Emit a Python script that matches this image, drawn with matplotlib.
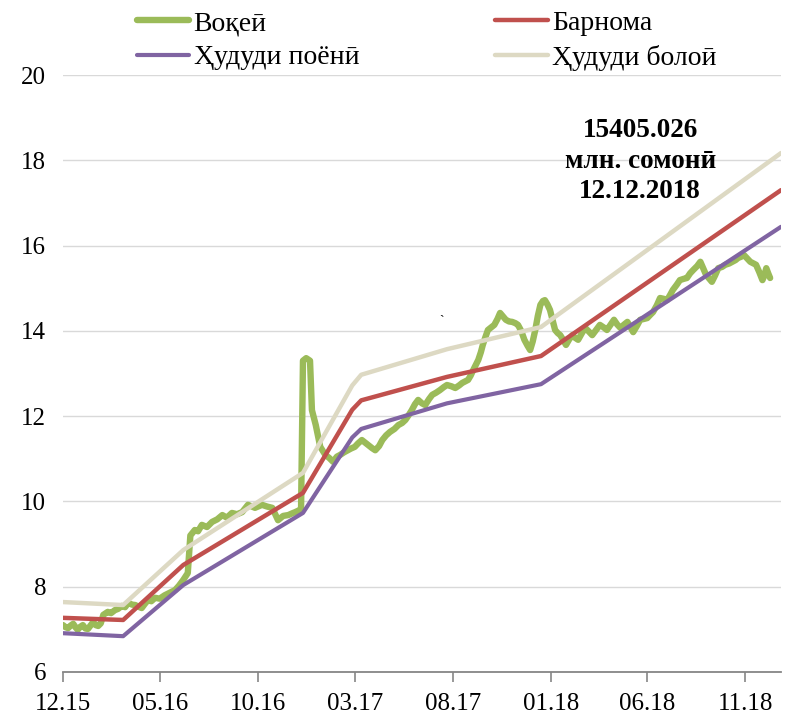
import matplotlib
matplotlib.use("Agg")
import matplotlib.pyplot as plt
import numpy as np
import pandas as pd

plt.rcParams['font.family'] = ['Liberation Serif', 'DejaVu Serif']

start = pd.Timestamp("2015-12-01")

# Actual (Воқеӣ): days since 2015-12-01, value
green_day = [0, 4, 8, 12, 16, 20, 23, 27, 31, 35, 39, 43, 47, 51, 55, 59, 63, 70, 75, 81, 86, 92, 97,
             102, 108, 113, 118, 123, 128, 133, 138, 144, 151, 159, 167, 175, 181, 188, 195,
             199, 206, 211, 217, 225, 233, 241, 249, 256, 264, 272, 280, 289, 300, 311, 319, 327, 336,
             344, 352, 358, 363, 370, 372, 375, 380, 386,
             389, 395, 402, 410, 416, 422, 428, 433, 439, 445, 450, 456, 461, 467, 472, 477, 483, 488,
             494, 499, 505, 511, 518, 524, 530, 535, 540, 545, 550, 555, 561, 566,
             572, 577, 583, 589, 595, 600, 607, 613, 619, 624, 629, 633, 637, 641, 645, 649, 653, 656,
             660, 664, 669, 674, 679, 683, 688, 692, 697, 702, 707, 711, 716, 721, 726, 730, 734, 738,
             742, 746, 750, 753, 757, 761, 765, 769, 773, 777, 782, 786, 791, 796, 800, 805, 811, 816,
             822, 827, 833, 839, 845, 850, 856, 861, 866, 871, 877, 882, 887, 891, 897, 902, 908, 913,
             918, 922, 928, 933, 939, 944, 949, 953, 959, 964, 970, 975, 980, 985, 991, 996, 1001, 1005,
             1010, 1014, 1019, 1024, 1030, 1035, 1041, 1046, 1051, 1055, 1060, 1064, 1069, 1074,
             1079, 1083, 1088, 1093, 1096, 1099, 1102, 1105]
green_val = [7.10, 7.05, 7.03, 7.09, 7.13, 7.04, 6.99, 7.06, 7.10, 7.02, 7.01, 7.09, 7.17, 7.10, 7.08,
             7.14, 7.34, 7.41, 7.38, 7.45, 7.48, 7.55, 7.52, 7.62, 7.58, 7.57, 7.53, 7.50, 7.60,
             7.69, 7.66, 7.74, 7.72, 7.80, 7.86, 7.92, 8.02, 8.16, 8.32,
             9.20, 9.33, 9.30, 9.45, 9.40, 9.52, 9.58, 9.68, 9.62, 9.73, 9.70, 9.75, 9.92, 9.85, 9.92,
             9.88, 9.85, 9.56, 9.66, 9.68, 9.72, 9.75, 9.80, 9.80, 13.30, 13.36, 13.30,
             12.14, 11.79, 11.28, 11.09, 11.02, 10.93, 11.05, 11.09, 11.15, 11.20, 11.24, 11.28, 11.36,
             11.44, 11.38, 11.32, 11.25, 11.20, 11.30, 11.44, 11.55, 11.63, 11.70, 11.79, 11.84, 11.91,
             12.02, 12.14, 12.28, 12.38, 12.30, 12.26,
             12.40, 12.50, 12.55, 12.61, 12.68, 12.73, 12.70, 12.66, 12.72, 12.78, 12.82, 12.85, 12.95,
             13.08, 13.20, 13.32, 13.50, 13.67, 13.85, 14.02, 14.08, 14.14, 14.28, 14.42, 14.33, 14.26,
             14.22, 14.21, 14.18, 14.14, 14.00, 13.79, 13.65, 13.55, 13.75, 14.02, 14.35, 14.61, 14.70,
             14.72, 14.62, 14.49, 14.25, 14.02, 13.95, 13.90, 13.78, 13.67, 13.80, 13.90, 13.84, 13.79,
             13.95, 14.07, 13.98, 13.90, 14.02, 14.14, 14.08, 14.02, 14.15, 14.26, 14.15, 14.07, 14.15,
             14.21, 14.08, 13.97, 14.12, 14.26, 14.28, 14.30, 14.38, 14.44, 14.60, 14.77, 14.75, 14.72,
             14.85, 14.96, 15.08, 15.19, 15.22, 15.24, 15.35, 15.43, 15.52, 15.62, 15.45, 15.31, 15.22,
             15.15, 15.30, 15.47, 15.50, 15.55, 15.58, 15.62, 15.66, 15.71, 15.74, 15.78, 15.70, 15.62,
             15.58, 15.55, 15.38, 15.19, 15.30, 15.47, 15.35, 15.24]

# Program and corridor
trend_day = [0, 94, 188, 375, 452, 466, 600, 747, 1122]
red_val = [7.27, 7.22, 8.51, 10.20, 12.15, 12.37, 12.92, 13.41, 17.30]
purple_val = [6.91, 6.84, 8.04, 9.73, 11.50, 11.70, 12.30, 12.75, 16.44]
beige_val = [7.64, 7.57, 8.86, 10.67, 12.72, 12.97, 13.57, 14.09, 18.17]

tick_dates = ["2015-12-01", "2016-05-01", "2016-10-01", "2017-03-01", "2017-08-01",
              "2018-01-01", "2018-06-01", "2018-11-01"]
tick_labels = ["12.15", "05.16", "10.16", "03.17", "08.17", "01.18", "06.18", "11.18"]
y_ticks = [6, 8, 10, 12, 14, 16, 18, 20]

labels = ["Воқеӣ", "Барнома", "Ҳудуди поёнӣ", "Ҳудуди болоӣ"]
annot = "15405.026\nмлн. сомонӣ\n12.12.2018"
annot_day = 902
annot_y = 17.98

gx = start + pd.to_timedelta(green_day, unit="D")
tx = start + pd.to_timedelta(trend_day, unit="D")

fig = plt.figure(figsize=(7.94, 7.23), dpi=100)
ax = fig.add_axes([63/794, 1-672/723, (781-63)/794, (672-75)/723])

c_green = "#9BBB59"
c_red = "#C0504D"
c_purple = "#8064A2"
c_beige = "#DDD9C3"

l_beige, = ax.plot(tx, beige_val, color=c_beige, lw=3.2, solid_capstyle="round", zorder=3)
l_red, = ax.plot(tx, red_val, color=c_red, lw=3.2, solid_capstyle="round", zorder=4)
l_purple, = ax.plot(tx, purple_val, color=c_purple, lw=3.0, solid_capstyle="round", zorder=4)
l_green, = ax.plot(gx, green_val, color=c_green, lw=4.6, solid_joinstyle="round",
                   solid_capstyle="round", zorder=2)

ax.set_ylim(6, 20)
ax.set_xlim(start, start + pd.Timedelta(days=1122))
ax.set_yticks(y_ticks)
ax.set_yticklabels([str(v) for v in y_ticks], fontsize=18)
ax.set_xticks(pd.to_datetime(tick_dates))
ax.set_xticklabels(tick_labels, fontsize=18)
ax.tick_params(axis="y", length=0, pad=12)
ax.tick_params(axis="x", length=7, width=1.2, color="#868686", pad=8, direction="out")

ax.grid(axis="y", color="#D9D9D9", lw=1)
ax.set_axisbelow(True)
for s in ["left", "right", "top"]:
    ax.spines[s].set_visible(False)
ax.spines["bottom"].set_color("#868686")
ax.spines["bottom"].set_linewidth(1.3)

ax.text(start + pd.Timedelta(days=annot_day), annot_y, annot, ha="center", va="center",
        fontsize=19.5, fontweight="bold", linespacing=1.3, zorder=5)
ax.text(start + pd.Timedelta(days=591), 14.21, "`", ha="center", va="center", fontsize=10)

fig.legend([l_green, l_purple, l_red, l_beige],
           [labels[0], labels[2], labels[1], labels[3]],
           ncol=2, loc="upper left", bbox_to_anchor=(120/794, 1.0 + 6/723), frameon=False,
           fontsize=20, handlelength=1.9, handletextpad=0.15, columnspacing=4.9,
           labelspacing=0.32, borderpad=0.1)

fig.savefig("out.png", dpi=100)
